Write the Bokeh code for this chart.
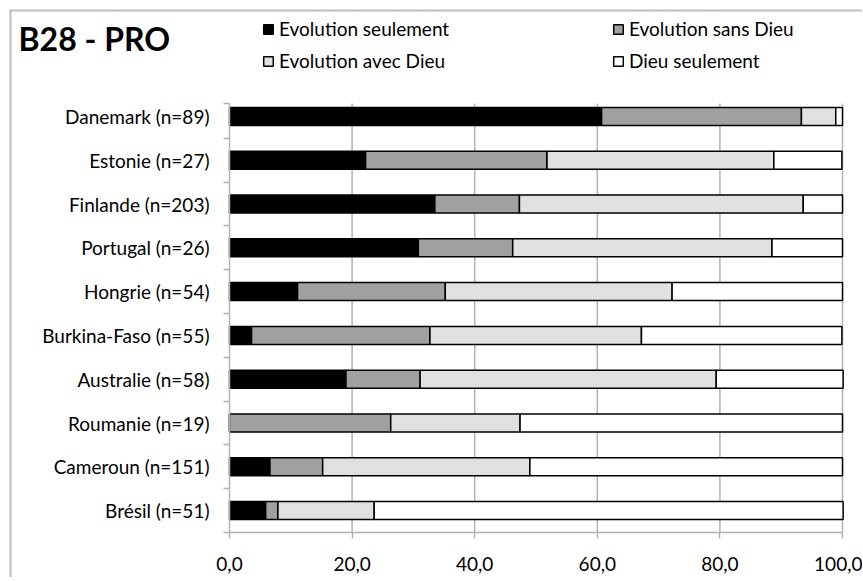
from bokeh.plotting import figure
from bokeh.models import ColumnDataSource, FixedTicker, Legend, LegendItem, Label, Range1d
from bokeh.embed import file_html
from bokeh.resources import INLINE

# ---------------- data ----------------
countries = ["Danemark (n=89)", "Estonie (n=27)", "Finlande (n=203)", "Portugal (n=26)",
             "Hongrie (n=54)", "Burkina-Faso (n=55)", "Australie (n=58)", "Roumanie (n=19)",
             "Cameroun (n=151)", "Brésil (n=51)"]
evo_seul = [60.7, 22.2, 33.5, 30.8, 11.1, 3.6, 19.0, 0.0, 6.6, 5.9]
evo_sans = [32.6, 29.6, 13.8, 15.4, 24.1, 29.1, 12.1, 26.3, 8.6, 2.0]
evo_avec = [5.6, 37.0, 46.3, 42.3, 37.0, 34.5, 48.3, 21.1, 33.8, 15.7]
dieu_seul = [1.1, 11.1, 6.4, 11.5, 27.8, 32.7, 20.7, 52.6, 51.0, 76.5]
series_names = ["Evolution seulement", "Evolution sans Dieu", "Evolution avec Dieu", "Dieu seulement"]
series_colors = ["#000000", "#a0a0a0", "#e0e0e0", "#ffffff"]
x_ticks = [0, 20, 40, 60, 80, 100]
x_tick_labels = ["0,0", "20,0", "40,0", "60,0", "80,0", "100,0"]
title_text = "B28 - PRO"

n = len(countries)
ypos = [n - i - 0.5 for i in range(n)]
source = ColumnDataSource(dict(y=ypos, s1=evo_seul, s2=evo_sans, s3=evo_avec, s4=dieu_seul))

# ---------------- layout (pixels) ----------------
W, H = 862, 577
PX0, PX100 = 229, 842       # pixel x of 0 and 100
PY0, PYTOP = 532, 94        # pixel y of the bottom and top band edges
ux = 100.0 / (PX100 - PX0)
uy = n / (PY0 - PYTOP)
def dx(px):
    return (px - PX0) * ux
def dy(py):
    return (PY0 - py) * uy

FONT = "Lato"
GRID = "#b3b3b3"
BORDER = "#bfbfbf"
grid_top = dy(103)

p = figure(width=W, height=H, output_backend="svg", toolbar_location=None,
           x_range=Range1d(dx(0), dx(W)), y_range=Range1d(dy(H), dy(0)),
           min_border_left=0, min_border_right=0, min_border_top=0, min_border_bottom=0)
p.outline_line_color = None
p.background_fill_color = "white"
p.border_fill_color = "white"
p.xgrid.visible = False
p.ygrid.visible = False

# outer chart border (left and top)
p.segment(x0=[dx(10), dx(9)], y0=[dy(10), dy(10)], x1=[dx(10), dx(W)], y1=[dy(H), dy(10)],
          line_color=BORDER, line_width=2)

# vertical gridlines
p.segment(x0=x_ticks[1:], y0=[0] * (len(x_ticks) - 1), x1=x_ticks[1:], y1=[grid_top] * (len(x_ticks) - 1),
          line_color=GRID, line_width=1.5)

rs = p.hbar_stack(["s1", "s2", "s3", "s4"], y="y", height=0.41, source=source,
                  color=series_colors, line_color="black", line_width=1.5)
for r, c in zip(rs, series_colors):
    r.glyph.fill_color = c
    r.glyph.line_color = "black"

# x axis (inside frame at y = 0)
xa = p.xaxis[0]
xa.fixed_location = 0
xa.bounds = (0, 100)
xa.ticker = FixedTicker(ticks=x_ticks)
xa.major_label_overrides = {t: l for t, l in zip(x_ticks, x_tick_labels)}
xa.major_label_text_font = FONT
xa.major_label_text_font_size = "19px"
xa.major_label_text_color = "black"
xa.major_label_standoff = 18
xa.axis_line_color = GRID
xa.axis_line_width = 1.5
xa.major_tick_line_color = GRID
xa.major_tick_line_width = 1.5
xa.major_tick_out = 6
xa.major_tick_in = 0
xa.minor_tick_out = 0
xa.minor_tick_in = 0

# y axis (inside frame at x = 0)
ya = p.yaxis[0]
ya.fixed_location = 0
ya.ticker = FixedTicker(ticks=ypos, minor_ticks=list(range(n)) + [grid_top])
ya.major_label_overrides = {y: c for y, c in zip(ypos, countries)}
ya.major_label_text_font = FONT
ya.major_label_text_font_size = "19px"
ya.major_label_text_color = "black"
ya.major_label_standoff = 14
ya.bounds = (0, grid_top)
ya.axis_line_color = GRID
ya.axis_line_width = 1.5
ya.major_tick_out = 0
ya.major_tick_in = 0
ya.minor_tick_out = 6
ya.minor_tick_in = 0
ya.minor_tick_line_color = GRID
ya.minor_tick_line_width = 1.5

# legends
def make_legend(idx, loc):
    return Legend(items=[LegendItem(label=series_names[i], renderers=[rs[i]]) for i in idx],
                  location=loc, orientation="vertical", padding=0, margin=0,
                  border_line_color=None, background_fill_alpha=0,
                  glyph_width=12, glyph_height=12, label_standoff=5, spacing=9,
                  label_text_font=FONT, label_text_font_size="19px", label_height=20,
                  label_text_color="black")

p.add_layout(make_legend([0, 2], (262, H - 72)))
p.add_layout(make_legend([1, 3], (612, H - 72)))

p.add_layout(Label(x=18, y=H - 38, x_units="screen", y_units="screen", text=title_text,
                   text_font=FONT, text_font_style="bold", text_font_size="32px",
                   text_color="black", text_baseline="alphabetic"))

open("out.html", "w").write(file_html(p, INLINE))
